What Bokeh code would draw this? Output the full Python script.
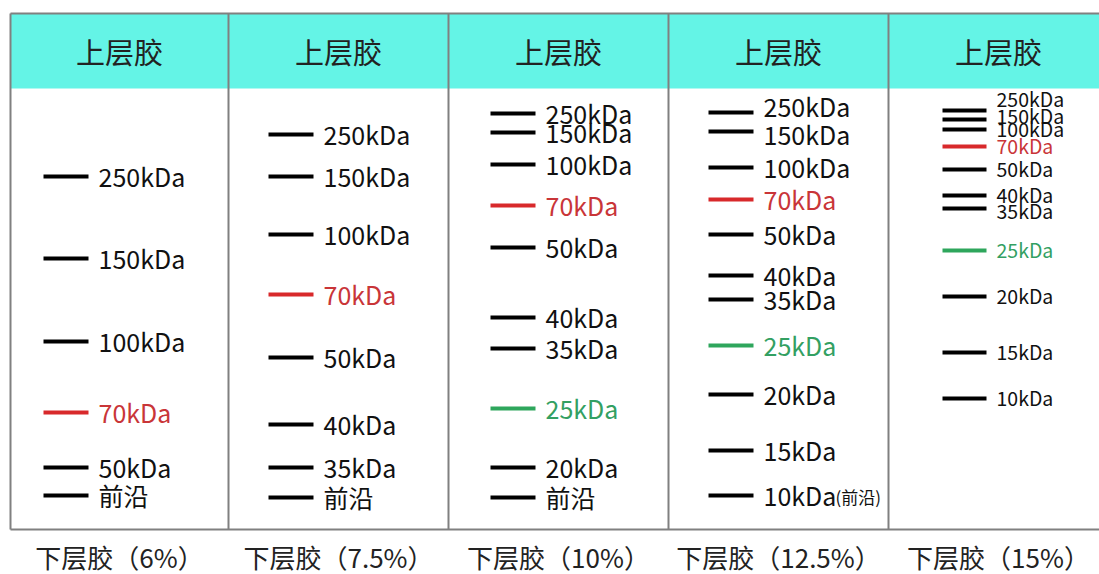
from bokeh.plotting import figure
from bokeh.models import Range1d, ColumnDataSource
from bokeh.core.properties import value
from bokeh.embed import file_html
from bokeh.resources import INLINE

# ---------------- data ----------------
header_label = "上层胶"
gel_labels = ["下层胶（6%）", "下层胶（7.5%）", "下层胶（10%）", "下层胶（12.5%）", "下层胶（15%）"]

gel1_names = ["250kDa", "150kDa", "100kDa", "70kDa", "50kDa", "前沿"]
gel1_pos = [176, 258, 341, 412, 467, 495]

gel2_names = ["250kDa", "150kDa", "100kDa", "70kDa", "50kDa", "40kDa", "35kDa", "前沿"]
gel2_pos = [134, 176, 234, 294, 357, 424, 467, 497]

gel3_names = ["250kDa", "150kDa", "100kDa", "70kDa", "50kDa", "40kDa", "35kDa", "25kDa", "20kDa", "前沿"]
gel3_pos = [113, 132, 164, 205, 247, 317, 348, 408, 467, 497]

gel4_names = ["250kDa", "150kDa", "100kDa", "70kDa", "50kDa", "40kDa", "35kDa", "25kDa", "20kDa", "15kDa", "10kDa"]
gel4_pos = [112, 131, 167, 199, 234, 275, 299, 345, 394, 450, 495]

gel5_names = ["250kDa", "150kDa", "100kDa", "70kDa", "50kDa", "40kDa", "35kDa", "25kDa", "20kDa", "15kDa", "10kDa"]
gel5_pos = [110, 119, 129, 146, 169, 195, 208, 250, 296, 352, 398]

gels_names = [gel1_names, gel2_names, gel3_names, gel4_names, gel5_names]
gels_pos = [gel1_pos, gel2_pos, gel3_pos, gel4_pos, gel5_pos]
front_note = "(前沿)"

# ---------------- layout / style ----------------
FONT = value("Noto Sans CJK SC")
col_edges = [10, 228, 448, 668, 888, 1108]
line_x0 = [43, 268, 490, 708, 942]
line_len = [45, 45, 45, 45, 44]
label_size = ["25px", "25px", "25px", "25px", "19.5px"]
label_dy = [
    {},
    {},
    {},
    {"250kDa": -6, "150kDa": 3},
    {"250kDa": -11, "150kDa": -3, "35kDa": 3},
]
RED, GREEN, BLACK = "#d8292b", "#2ea65c", "#000000"
RED_T, GREEN_T = "#c93538", "#33a062"
CYAN = "#64f4e6"
GRID = "#808080"
TOP, HEAD_BOTTOM, BOTTOM = 13, 88, 529

W, H = 1099, 574
p = figure(width=W, height=H, output_backend="svg", toolbar_location=None,
           x_range=Range1d(0, W), y_range=Range1d(H, 0),
           min_border=0, tools="")
p.axis.visible = False
p.grid.visible = False
p.outline_line_color = None
p.background_fill_color = "white"

# header band
p.quad(left=[col_edges[0]], right=[col_edges[-1]], top=[TOP], bottom=[HEAD_BOTTOM],
       fill_color=CYAN, line_color=None)

# borders
p.segment(x0=[col_edges[0], col_edges[0]], y0=[TOP, BOTTOM],
          x1=[col_edges[-1], col_edges[-1]], y1=[TOP, BOTTOM],
          line_color=GRID, line_width=2)
p.segment(x0=col_edges, y0=[TOP] * len(col_edges), x1=col_edges, y1=[BOTTOM] * len(col_edges),
          line_color=GRID, line_width=2)

centers = [(col_edges[i] + col_edges[i + 1]) / 2 for i in range(5)]
p.text(x=centers, y=[50] * 5, text=[header_label] * 5, text_font=FONT,
       text_font_size="29px", text_align="center", text_baseline="middle", text_color="#222222")
p.text(x=centers, y=[556] * 5, text=gel_labels, text_font=FONT,
       text_font_size="26px", text_align="center", text_baseline="middle", text_color="#222222")

for i in range(5):
    names, pos = gels_names[i], gels_pos[i]
    lc, tc = [], []
    for n in names:
        if n == "70kDa":
            lc.append(RED); tc.append(RED_T)
        elif n == "25kDa":
            lc.append(GREEN); tc.append(GREEN_T)
        else:
            lc.append(BLACK); tc.append("#111111")
    x0 = line_x0[i]
    src = ColumnDataSource(dict(
        x0=[x0] * len(names), x1=[x0 + line_len[i]] * len(names), y=pos,
        lx=[x0 + line_len[i] + 10] * len(names),
        ly=[y - 1 + label_dy[i].get(n, 0) for n, y in zip(names, pos)],
        name=names, lc=lc, tc=tc))
    p.segment(x0="x0", y0="y", x1="x1", y1="y", line_color="lc", line_width=4, source=src)
    p.text(x="lx", y="ly", text="name", text_color="tc", text_font=FONT,
           text_font_size=label_size[i], text_baseline="middle", text_align="left", source=src)

# note after the 10kDa marker of the 12.5% gel
p.text(x=[line_x0[3] + line_len[3] + 82], y=[gel4_pos[-1] + 1], text=[front_note], text_font=FONT,
       text_font_size="17px", text_baseline="middle", text_align="left", text_color="#111111")

open("out.html", "w").write(file_html(p, INLINE))
